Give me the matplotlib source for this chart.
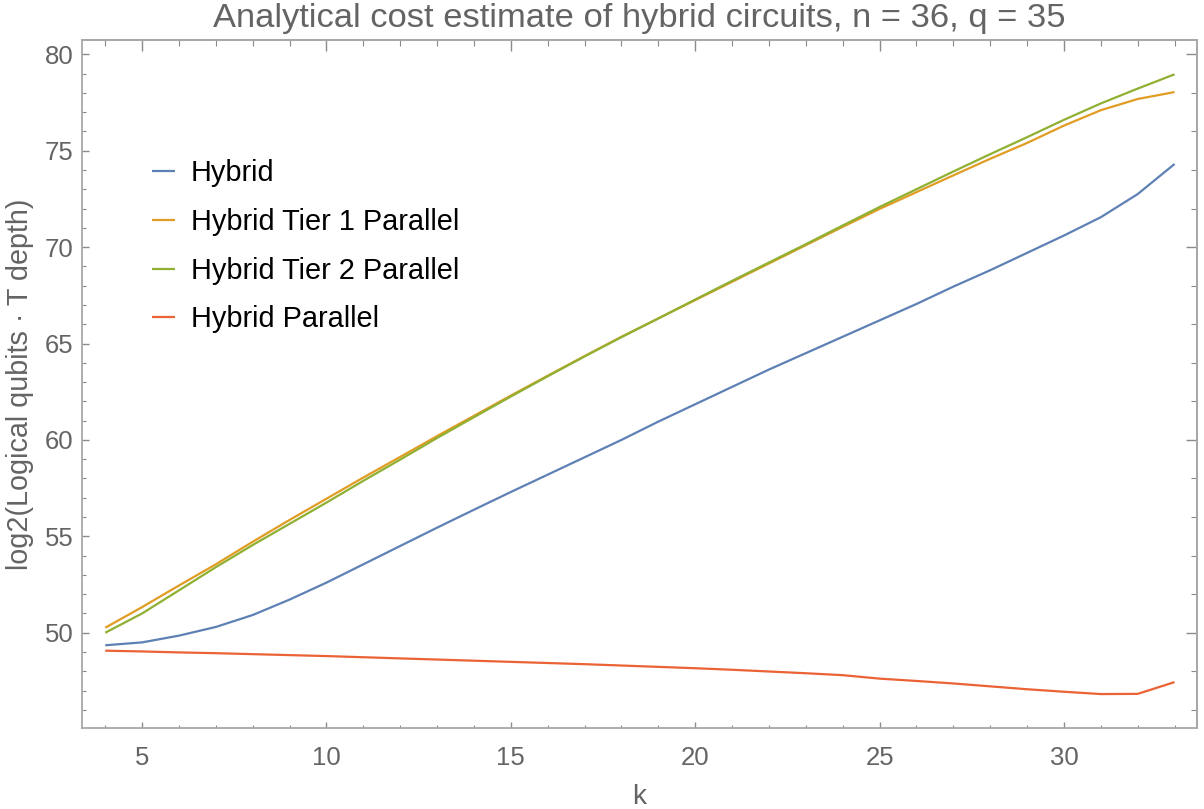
import matplotlib
matplotlib.use('Agg')
import matplotlib.pyplot as plt
from matplotlib.ticker import MultipleLocator, NullFormatter

plt.rcParams['font.family'] = ['Liberation Sans', 'DejaVu Sans']

# k values and log2(qubits * T depth) for each circuit variant
k = list(range(4, 34))

hybrid = [49.35, 49.50, 49.85, 50.30, 50.92, 51.72, 52.60, 53.55, 54.50, 55.45,
          56.38, 57.30, 58.20, 59.10, 60.00, 60.95, 61.85, 62.75, 63.65, 64.50,
          65.35, 66.20, 67.05, 67.95, 68.80, 69.70, 70.60, 71.55, 72.75, 74.31]

tier1 = [50.26, 51.33, 52.45, 53.55, 54.72, 55.85, 56.95, 58.05, 59.12, 60.20,
         61.25, 62.30, 63.33, 64.35, 65.35, 66.30, 67.25, 68.20, 69.15, 70.10,
         71.05, 71.98, 72.85, 73.72, 74.58, 75.40, 76.30, 77.10, 77.68, 78.04]

tier2 = [50.00, 51.00, 52.20, 53.40, 54.55, 55.65, 56.75, 57.88, 58.98, 60.10,
         61.18, 62.25, 63.30, 64.33, 65.33, 66.30, 67.28, 68.25, 69.20, 70.15,
         71.12, 72.08, 73.00, 73.92, 74.82, 75.70, 76.60, 77.45, 78.22, 78.96]

parallel = [49.07, 49.03, 48.98, 48.94, 48.89, 48.84, 48.79, 48.73, 48.67, 48.61,
            48.55, 48.49, 48.43, 48.37, 48.30, 48.23, 48.16, 48.08, 47.99, 47.90,
            47.80, 47.62, 47.50, 47.37, 47.22, 47.07, 46.94, 46.82, 46.83, 47.44]

labels = ['Hybrid', 'Hybrid Tier 1 Parallel', 'Hybrid Tier 2 Parallel', 'Hybrid Parallel']
colors = ['#5E81B5', '#E19C24', '#8FB032', '#EB6235']

frameGray = '#a8a8a8'
tickGray = '#8a8a8a'
textGray = '#646464'

fig = plt.figure(figsize=(12.04, 8.09), dpi=100)
ax = fig.add_axes([82 / 1204, 81 / 809, 1114.7 / 1204, 688 / 809])

for series, label, color in zip([hybrid, tier1, tier2, parallel], labels, colors):
	ax.plot(k, series, color=color, lw=1.6, label=label, solid_capstyle='butt')

ax.set_xlim(3.37, 33.6)
ax.set_ylim(45.06, 80.74)

for spine in ax.spines.values():
	spine.set_color(frameGray)
	spine.set_linewidth(1.3)

# bottom / left: labelled ticks, short, pointing inward
ax.xaxis.set_major_locator(MultipleLocator(5))
ax.xaxis.set_minor_locator(MultipleLocator(1))
ax.yaxis.set_major_locator(MultipleLocator(5))
ax.yaxis.set_minor_locator(MultipleLocator(1))
ax.tick_params(which='both', direction='in', color=tickGray, labelcolor=textGray,
               labelsize=18.5, top=False, right=False)
ax.tick_params(axis='x', which='major', length=4.5, width=1, pad=13)
ax.tick_params(axis='x', which='minor', length=2.5, width=0.8)
ax.tick_params(axis='y', which='major', length=5, width=1, pad=6)
ax.tick_params(axis='y', which='minor', length=3, width=0.8)

# top / right: unlabelled, longer ticks
top = ax.secondary_xaxis('top')
top.xaxis.set_major_locator(MultipleLocator(5))
top.xaxis.set_minor_locator(MultipleLocator(1))
top.xaxis.set_major_formatter(NullFormatter())
top.tick_params(which='both', direction='in', color=tickGray)
top.tick_params(which='major', length=8, width=1)
top.tick_params(which='minor', length=4, width=0.8)
top.spines['top'].set_color(frameGray)
top.spines['top'].set_linewidth(1.3)

right = ax.secondary_yaxis('right')
right.yaxis.set_major_locator(MultipleLocator(10))
right.yaxis.set_minor_locator(MultipleLocator(2))
right.yaxis.set_major_formatter(NullFormatter())
right.tick_params(which='both', direction='in', color=tickGray)
right.tick_params(which='major', length=8, width=1)
right.tick_params(which='minor', length=4.5, width=0.8)
right.spines['right'].set_color(frameGray)
right.spines['right'].set_linewidth(1.3)

ax.set_title('Analytical cost estimate of hybrid circuits, n = 36, q = 35',
             fontsize=24.8, color=textGray, pad=9.5)
ax.set_xlabel('k', fontsize=20, color=textGray, labelpad=10)
ax.set_ylabel('log2(Logical qubits \u00b7 T depth)', fontsize=20.7, color=textGray, labelpad=8)

ax.legend(loc='upper left', bbox_to_anchor=(0.0628, 0.827), frameon=False,
          fontsize=20.8, handlelength=0.78, handletextpad=0.56, labelspacing=0.72,
          borderpad=0, borderaxespad=0)

fig.savefig('out.png', dpi=100)
